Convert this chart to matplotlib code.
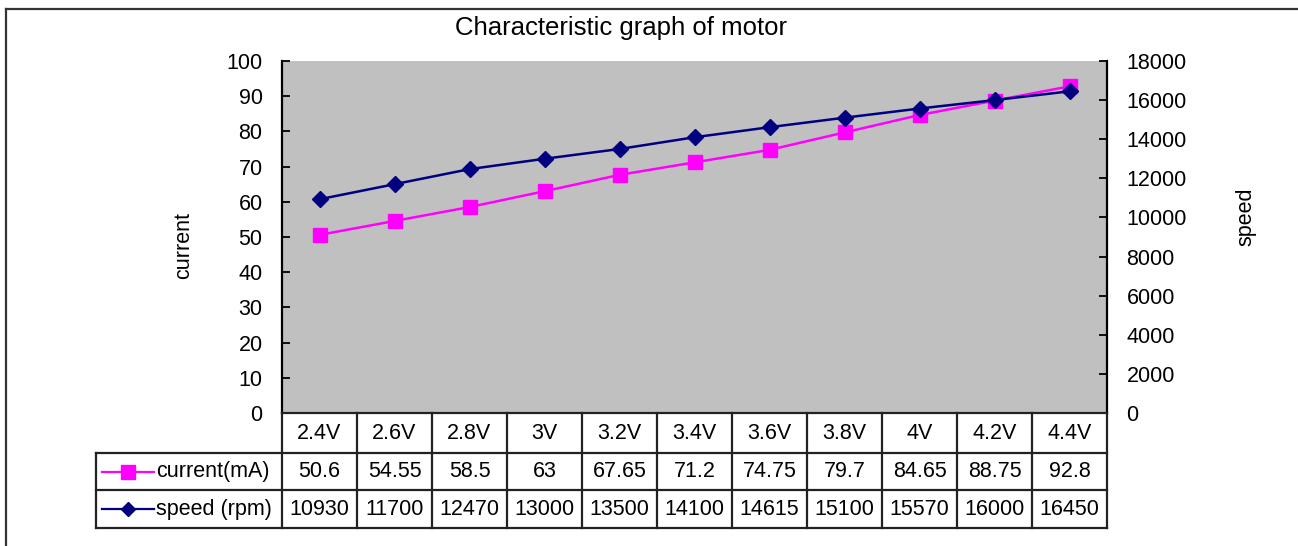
import numpy as np
import matplotlib.pyplot as plt
from matplotlib.lines import Line2D

plt.rcParams["font.family"] = ["Liberation Sans", "DejaVu Sans"]

voltages = ["2.4V", "2.6V", "2.8V", "3V", "3.2V", "3.4V", "3.6V", "3.8V", "4V", "4.2V", "4.4V"]
current_ma = [50.6, 54.55, 58.5, 63, 67.65, 71.2, 74.75, 79.7, 84.65, 88.75, 92.8]
speed_rpm = [10930, 11700, 12470, 13000, 13500, 14100, 14615, 15100, 15570, 16000, 16450]
current_label = "current(mA)"
speed_label = "speed (rpm)"

W, H = 1298, 546
MAGENTA = "#FF00FF"
NAVY = "#000080"
FS = 15.5


def px_box(x0, y0, x1, y1):
    # pixel box (top-left origin) -> figure fraction rect
    return [x0 / W, (H - y1) / H, (x1 - x0) / W, (y1 - y0) / H]


fig = plt.figure(figsize=(W / 100, H / 100), dpi=100)

# outer chart border (only top and left edges are visible in the crop)
fig.add_artist(Line2D([6 / W, 1.0], [1 - 9 / H, 1 - 9 / H], color="#333333", lw=1.6))
fig.add_artist(Line2D([6 / W, 6 / W], [0, 1 - 9 / H], color="#333333", lw=1.6))

fig.text(621 / W, 1 - 28 / H, "Characteristic graph of motor", ha="center", va="center", fontsize=18.5)

ax = fig.add_axes(px_box(282, 61, 1107, 413))
x = np.arange(len(voltages))
ax.set_facecolor("#C0C0C0")
ax.plot(x, current_ma, color=MAGENTA, lw=1.8, marker="s", ms=10.5, zorder=3)
ax.set_xlim(-0.5, len(voltages) - 0.5)
ax.set_ylim(0, 100)
ax.set_yticks(np.arange(0, 101, 10))
ax.set_xticks([])
ax.tick_params(axis="y", direction="in", length=6, width=1.3, pad=14, labelsize=FS)
for s in ["top", "right", "bottom"]:
    ax.spines[s].set_visible(False)
ax.spines["left"].set_linewidth(1.6)
ax.set_ylabel("current", fontsize=FS)
ax.yaxis.set_label_coords(-88 / 825, 0.477)

ax2 = ax.twinx()
ax2.plot(x, speed_rpm, color=NAVY, lw=1.8, marker="D", ms=8, zorder=4)
ax2.set_ylim(0, 18000)
ax2.set_yticks(np.arange(0, 18001, 2000))
ax2.tick_params(axis="y", direction="in", length=6, width=1.3, pad=14, labelsize=FS)
for s in ["top", "left", "bottom"]:
    ax2.spines[s].set_visible(False)
ax2.spines["right"].set_linewidth(1.6)
ax2.set_ylabel("speed", fontsize=FS)
ax2.yaxis.set_label_coords(1 + 128 / 825, 0.557)
for t in ax2.get_yticklabels():
    t.set_ha("left")

# data table below the plot
n = len(voltages)
col_w = 825 / n
lab_w = (282 - 96) / col_w
tab = fig.add_axes(px_box(96, 413, 1107, 528))
tab.set_xlim(-0.5 - lab_w, n - 0.5)
tab.set_ylim(3, 0)
tab.axis("off")
lk = dict(color="#222222", lw=1.6, clip_on=False)
row_y = [0, 1.05, 2.02, 3]
for yy in row_y:
    x0 = -0.5 if yy == 0 else -0.5 - lab_w
    tab.plot([x0, n - 0.5], [yy, yy], **lk)
for i in range(n + 1):
    tab.plot([i - 0.5, i - 0.5], [0, 3], **lk)
tab.plot([-0.5 - lab_w] * 2, [row_y[1], 3], **lk)

rows = [
    voltages,
    [f"{v:g}" for v in current_ma],
    [f"{v:d}" for v in speed_rpm],
]
for r, vals in enumerate(rows):
    ymid = (row_y[r] + row_y[r + 1]) / 2
    for i, v in enumerate(vals):
        tab.text(i, ymid, v, ha="center", va="center", fontsize=FS)

left = -0.5 - lab_w
for r, (lab, col, mk, ms) in enumerate([(current_label, MAGENTA, "s", 10),
                                       (speed_label, NAVY, "D", 7)], start=1):
    ymid = (row_y[r] + row_y[r + 1]) / 2
    tab.plot([left + 6 / col_w, left + 58 / col_w], [ymid, ymid], color=col, lw=1.6, clip_on=False)
    tab.plot([left + 32 / col_w], [ymid], color=col, marker=mk, ms=ms, clip_on=False)
    tab.text(left + 60 / col_w, ymid, lab, ha="left", va="center", fontsize=FS)

fig.savefig("out.png", dpi=100)
